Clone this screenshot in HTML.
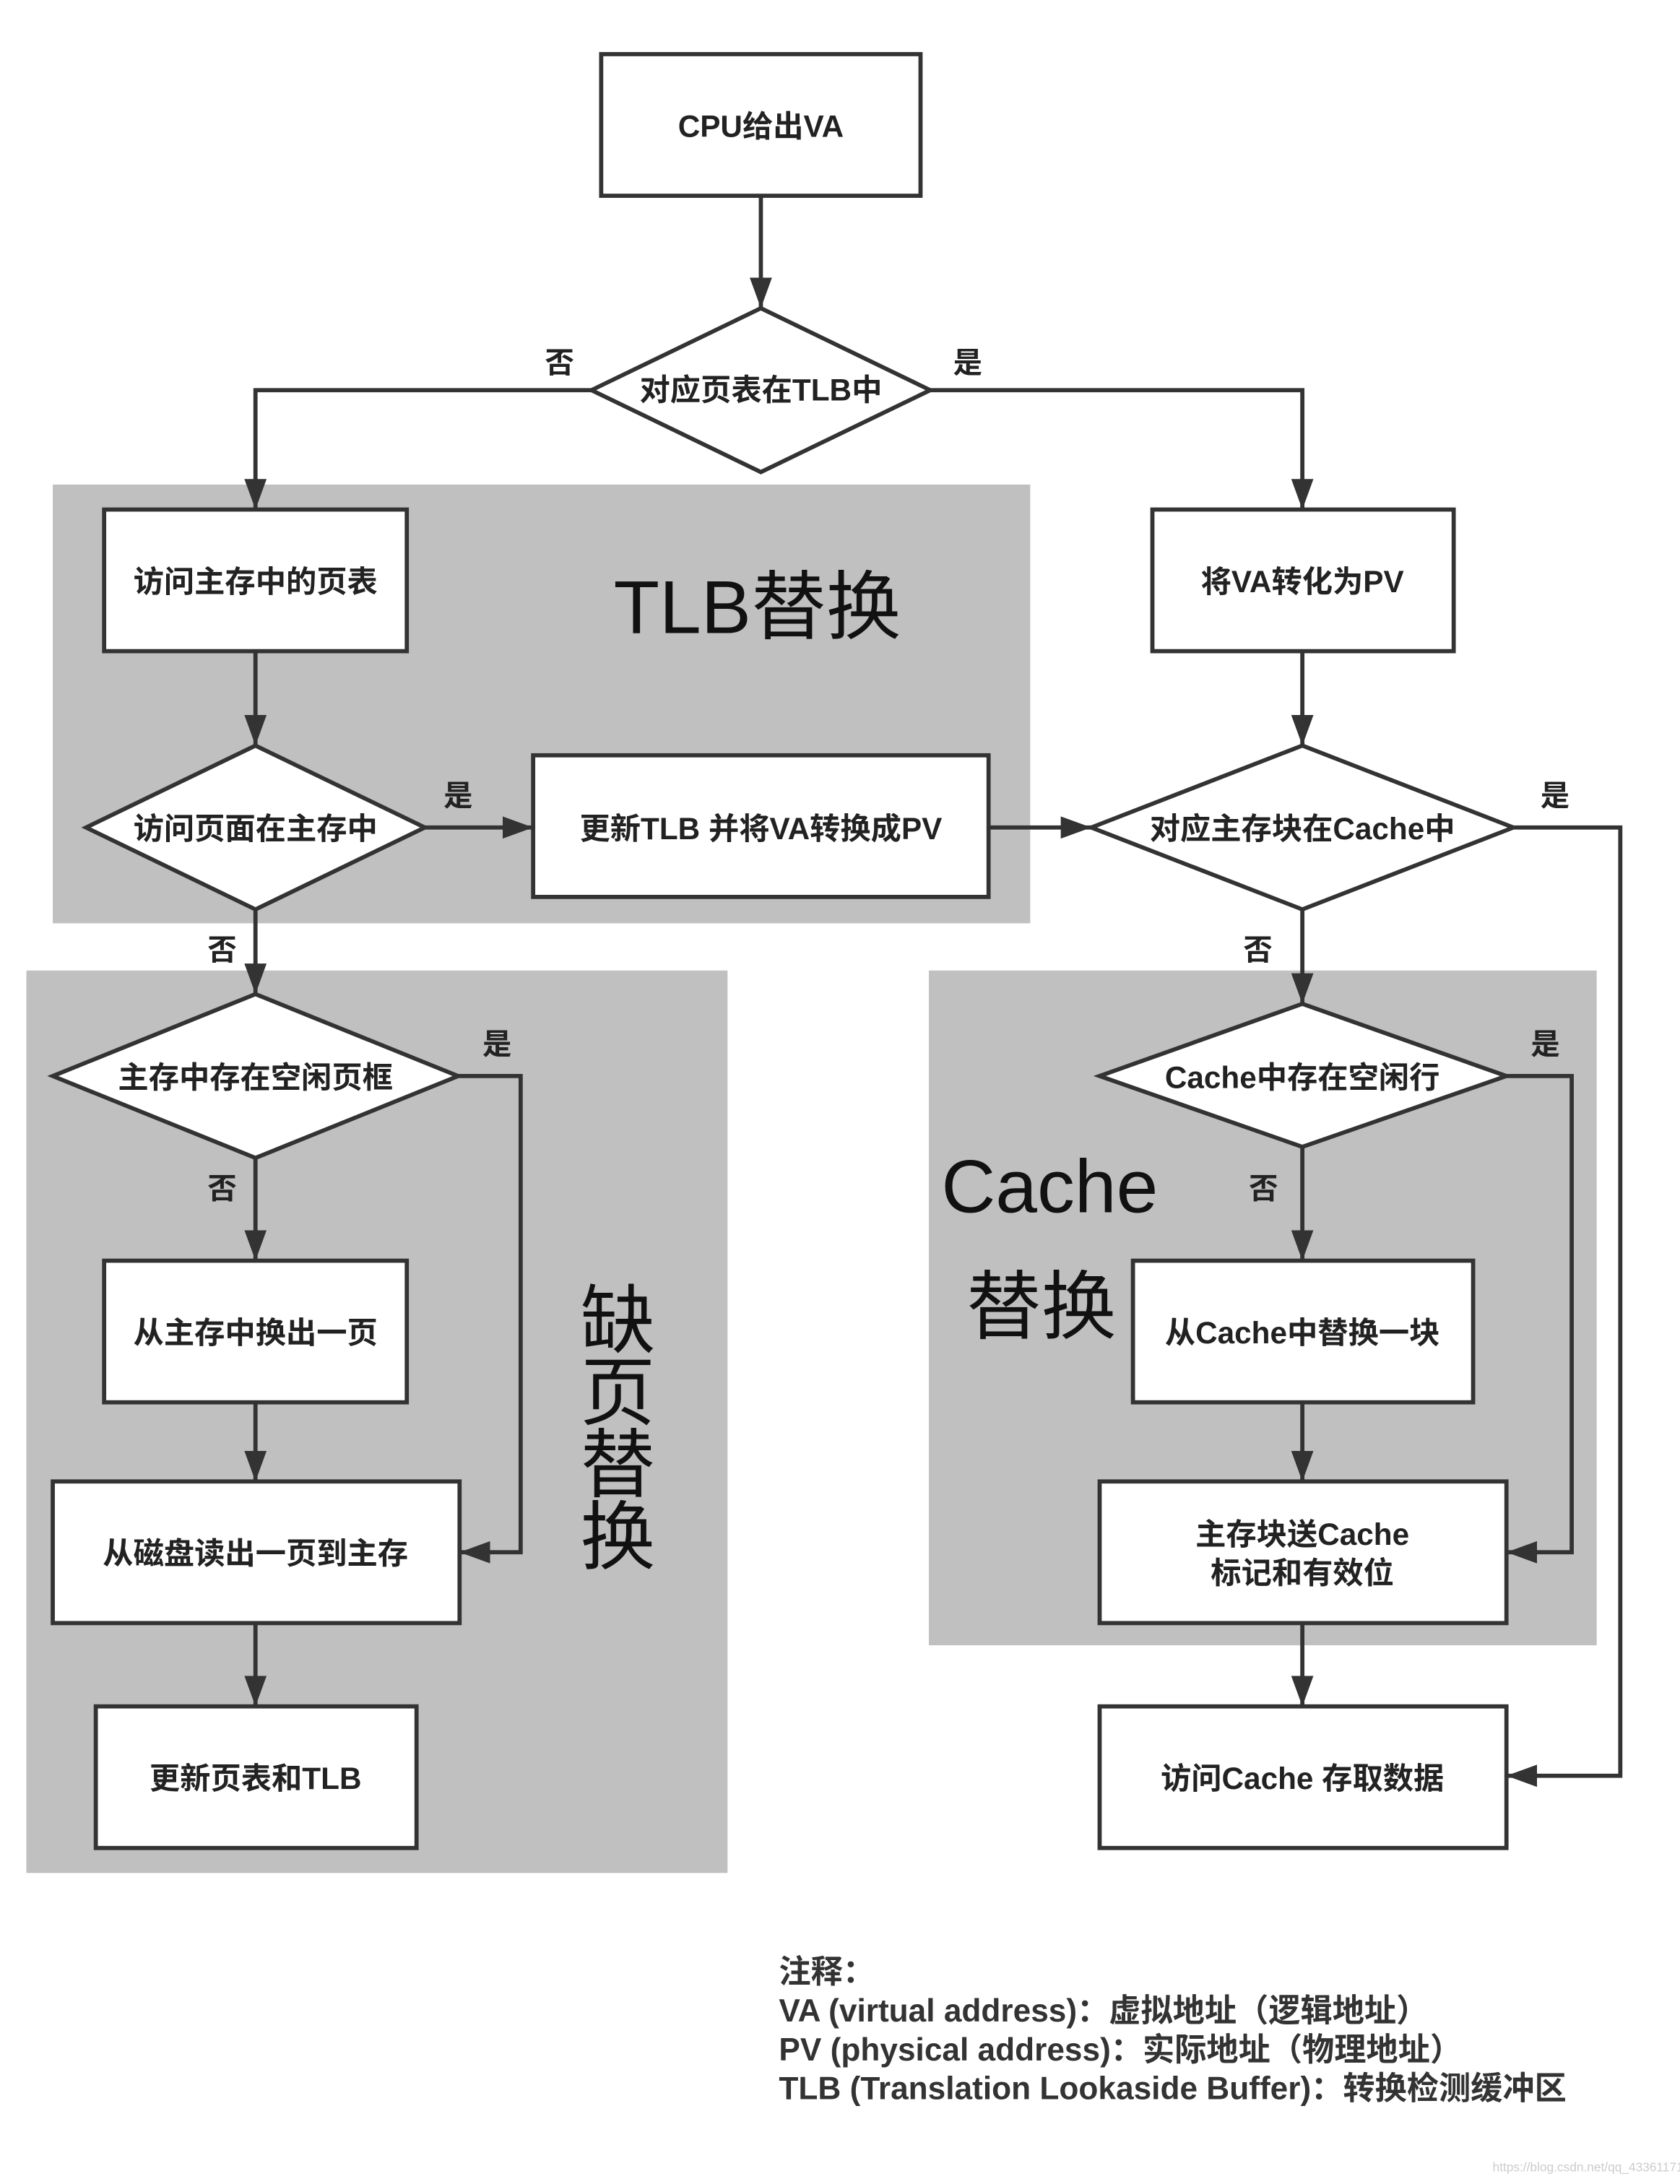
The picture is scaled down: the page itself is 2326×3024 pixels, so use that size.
<!DOCTYPE html>
<html><head><meta charset="utf-8"><style>
html,body{margin:0;padding:0;background:#fff}
svg{display:block}
text{font-family:"Liberation Sans","Noto Sans CJK SC",sans-serif;fill:#222}
.b{font-weight:bold;font-size:22px;text-anchor:middle;dominant-baseline:central}
.l{font-weight:bold;font-size:21px;text-anchor:middle;dominant-baseline:central}
.big{font-size:54px;fill:#111}
.n{font-weight:bold;font-size:23px;fill:#333}
</style></head><body>
<svg width="2326" height="3024" viewBox="0 0 1210 1573" preserveAspectRatio="none" xmlns="http://www.w3.org/2000/svg">
<defs><marker id="a" markerWidth="22" markerHeight="16" refX="22" refY="8" orient="auto" markerUnits="userSpaceOnUse"><path d="M0,0 L22,8 L0,16 Z" fill="#333"/></marker></defs>
<rect width="1210" height="1573" fill="#fff"/>
<rect x="38" y="349" width="704" height="316" fill="#c0c0c0"/>
<rect x="19" y="699" width="505" height="650" fill="#c0c0c0"/>
<rect x="669" y="699" width="481" height="486" fill="#c0c0c0"/>
<g stroke="#333" stroke-width="3" fill="#fff">
<rect x="433" y="39" width="230" height="102"/>
<polygon points="548,222 670,281 548,340 426,281"/>
<rect x="75" y="367" width="218" height="102"/>
<rect x="830" y="367" width="217" height="102"/>
<polygon points="184,537 306,596 184,655 62,596"/>
<rect x="384" y="544" width="328" height="102"/>
<polygon points="938,537 1090,596 938,655 786,596"/>
<polygon points="184,716 330,775 184,834 38,775"/>
<rect x="75" y="908" width="218" height="102"/>
<rect x="38" y="1067" width="293" height="102"/>
<rect x="69" y="1229" width="231" height="102"/>
<polygon points="938,723 1085,775 938,826 792,775"/>
<rect x="816" y="908" width="245" height="102"/>
<rect x="792" y="1067" width="293" height="102"/>
<rect x="792" y="1229" width="293" height="102"/>
</g>
<g stroke="#333" stroke-width="3" fill="none" marker-end="url(#a)">
<path d="M548,141 V222"/>
<path d="M426,281 H184 V367"/>
<path d="M670,281 H938 V367"/>
<path d="M184,469 V537"/>
<path d="M306,596 H384"/>
<path d="M712,596 H786"/>
<path d="M938,469 V537"/>
<path d="M1090,596 H1167 V1279 H1085"/>
<path d="M184,655 V716"/>
<path d="M330,775 H375 V1118 H331"/>
<path d="M184,834 V908"/>
<path d="M184,1010 V1067"/>
<path d="M184,1169 V1229"/>
<path d="M938,655 V723"/>
<path d="M1085,775 H1132 V1118 H1085"/>
<path d="M938,826 V908"/>
<path d="M938,1010 V1067"/>
<path d="M938,1169 V1229"/>
</g>
<text class="b" x="548" y="91">CPU给出VA</text>
<text class="b" x="548" y="281">对应页表在TLB中</text>
<text class="l" x="403" y="261">否</text>
<text class="l" x="697" y="261">是</text>
<text class="b" x="184" y="419">访问主存中的页表</text>
<text class="b" x="938" y="419">将VA转化为PV</text>
<text class="big" x="442" y="456">TLB替换</text>
<text class="b" x="184" y="597">访问页面在主存中</text>
<text class="l" x="330" y="573">是</text>
<text class="b" x="548" y="597">更新TLB 并将VA转换成PV</text>
<text class="b" x="938" y="597">对应主存块在Cache中</text>
<text class="l" x="1120" y="573">是</text>
<text class="l" x="160" y="684">否</text>
<text class="b" x="184" y="776">主存中存在空闲页框</text>
<text class="l" x="358" y="752">是</text>
<text class="l" x="160" y="856">否</text>
<text class="b" x="184" y="960">从主存中换出一页</text>
<text class="b" x="184" y="1119">从磁盘读出一页到主存</text>
<text class="b" x="184" y="1281">更新页表和TLB</text>
<g class="big" text-anchor="middle"><text class="big" x="445" y="970" text-anchor="middle">缺</text><text class="big" x="445" y="1022" text-anchor="middle">页</text><text class="big" x="445" y="1074" text-anchor="middle">替</text><text class="big" x="445" y="1126" text-anchor="middle">换</text></g>
<text class="l" x="906" y="684">否</text>
<text class="b" x="938" y="776">Cache中存在空闲行</text>
<text class="l" x="1113" y="752">是</text>
<text class="l" x="910" y="856">否</text>
<text class="big" x="678" y="873">Cache</text>
<text class="big" x="696" y="960">替换</text>
<text class="b" x="938" y="960">从Cache中替换一块</text>
<text class="b" x="938" y="1105">主存块送Cache</text>
<text class="b" x="938" y="1133">标记和有效位</text>
<text class="b" x="938" y="1281">访问Cache 存取数据</text>
<text class="n" x="561" y="1428">注释：</text>
<text class="n" x="561" y="1456">VA (virtual address)：虚拟地址（逻辑地址）</text>
<text class="n" x="561" y="1484">PV (physical address)：实际地址（物理地址）</text>
<text class="n" x="561" y="1512">TLB (Translation Lookaside Buffer)：转换检测缓冲区</text>
<text x="1075" y="1564" style="font-size:9px;fill:#ccc">https://blog.csdn.net/qq_43361171</text>
</svg>
</body></html>
